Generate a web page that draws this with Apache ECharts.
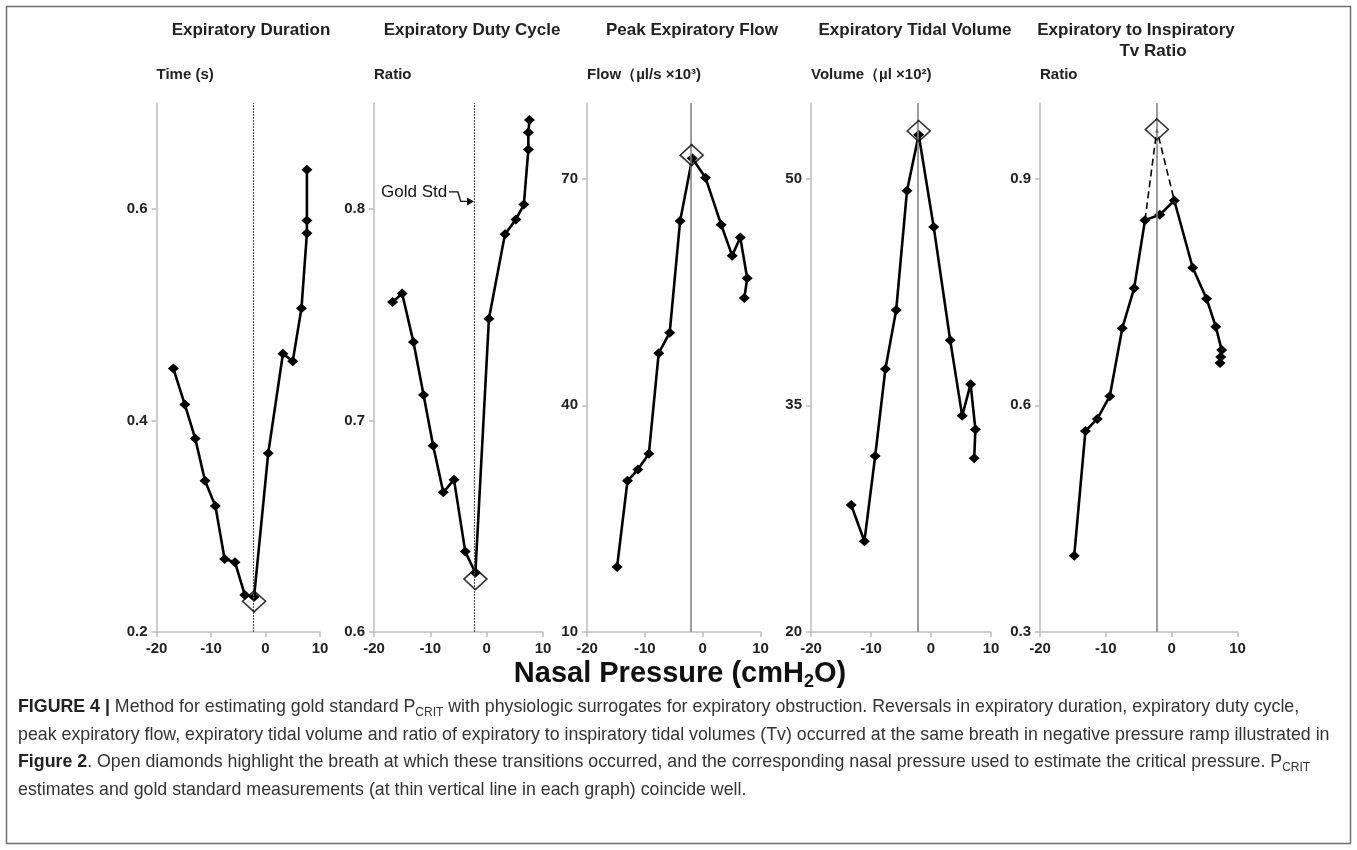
<!DOCTYPE html>
<html><head><meta charset="utf-8">
<script src="https://cdn.jsdelivr.net/npm/echarts@6/dist/echarts.min.js"></script>
<style>html,body{margin:0;padding:0;background:#fff}#c{width:1357px;height:850px}</style>
</head><body><div id="c"></div>
<script>
// ---------------- data ----------------
const panelTitles = ['Expiratory Duration', 'Expiratory Duty Cycle', 'Peak Expiratory Flow', 'Expiratory Tidal Volume', 'Expiratory to Inspiratory'];
const panelTitle5b = 'Tv Ratio';
const yNames = ['Time (s)', 'Ratio', 'Flow（µl/s ×10³)', 'Volume（µl ×10²)', 'Ratio'];
const xTicks = [-20, -10, 0, 10];
const yTicks = [[0.2, 0.4, 0.6], [0.6, 0.7, 0.8], [10, 40, 70], [20, 35, 50], [0.3, 0.6, 0.9]];
const yMin = [0.2, 0.6, 10, 20, 0.3];
const yMax = [0.7, 0.85, 80, 55, 1.0];
const goldStd = [-2.2, -2.2, -2.0, -2.2, -2.2];

const durX = [-16.9, -14.8, -12.9, -11.1, -9.2, -7.5, -5.6, -3.8, -2.1, 0.5, 3.2, 5.0, 6.6, 7.6, 7.6, 7.6];
const durY = [0.449, 0.415, 0.383, 0.343, 0.319, 0.269, 0.266, 0.235, 0.233, 0.369, 0.463, 0.456, 0.506, 0.577, 0.589, 0.637];
const durOpen = [-2.1, 0.229];

const dutyX = [-16.7, -15.0, -13.0, -11.2, -9.5, -7.7, -5.8, -3.8, -2.0, 0.4, 3.25, 5.2, 6.6, 7.4, 7.4, 7.6];
const dutyY = [0.756, 0.760, 0.737, 0.712, 0.688, 0.666, 0.672, 0.638, 0.628, 0.748, 0.788, 0.795, 0.802, 0.828, 0.836, 0.842];
const dutyOpen = [-2.0, 0.625];

const flowX = [-14.8, -13.0, -11.2, -9.3, -7.6, -5.7, -3.9, -1.8, 0.5, 3.2, 5.1, 6.5, 7.7, 7.2];
const flowY = [18.6, 30.0, 31.5, 33.6, 46.9, 49.6, 64.4, 72.7, 70.1, 63.9, 59.8, 62.2, 56.8, 54.2];
const flowOpen = [-1.9, 73.1];

const volX = [-13.3, -11.1, -9.3, -7.6, -5.8, -4.0, -2.05, 0.45, 3.2, 5.2, 6.6, 7.4, 7.2];
const volY = [28.4, 26.0, 31.65, 37.4, 41.3, 49.2, 52.9, 46.8, 39.3, 34.3, 36.4, 33.4, 31.5];
const volOpen = [-2.05, 53.15];

const ratioX = [-14.8, -13.1, -11.3, -9.4, -7.5, -5.7, -4.05, -1.8, 0.4, 3.2, 5.3, 6.7, 7.6, 7.45, 7.35];
const ratioY = [0.401, 0.566, 0.582, 0.612, 0.702, 0.755, 0.845, 0.852, 0.871, 0.782, 0.741, 0.704, 0.673, 0.664, 0.656];
const ratioOpen = [-2.25, 0.965];

const goldStdLabel = 'Gold Std';
const xAxisTitle = 'Nasal Pressure (cmH';
const captionLines = [
  '{b|FIGURE 4 |}{n| Method for estimating gold standard P}{s|CRIT}{n| with physiologic surrogates for expiratory obstruction. Reversals in expiratory duration, expiratory duty cycle,}',
  '{n|peak expiratory flow, expiratory tidal volume and ratio of expiratory to inspiratory tidal volumes (Tv) occurred at the same breath in negative pressure ramp illustrated in}',
  '{b|Figure 2}{n|. Open diamonds highlight the breath at which these transitions occurred, and the corresponding nasal pressure used to estimate the critical pressure. P}{s|CRIT}',
  '{n|estimates and gold standard measurements (at thin vertical line in each graph) coincide well.}'
];

// ---------------- layout ----------------
const FONT = "'Liberation Sans', Arial, Helvetica, sans-serif";
const gridLeft = [156.5, 374, 587, 811, 1040];
const gridWidth = [163.5, 169, 173.5, 180, 197.5];
const gridTop = 103, gridHeight = 529;
const titleX = [251, 472, 692, 915, 1136];

const zip = (xs, ys) => xs.map((x, i) => [x, ys[i]]);
const panels = [
  { data: zip(durX, durY), open: durOpen },
  { data: zip(dutyX, dutyY), open: dutyOpen },
  { data: zip(flowX, flowY), open: flowOpen },
  { data: zip(volX, volY), open: volOpen },
  { data: zip(ratioX, ratioY), open: ratioOpen }
];

const axisColor = '#bdbdbd';
const grids = [], xAxes = [], yAxes = [], series = [];
panels.forEach((p, i) => {
  grids.push({ left: gridLeft[i], top: gridTop, width: gridWidth[i], height: gridHeight, containLabel: false });
  xAxes.push({
    type: 'value', gridIndex: i, min: -20, max: 10, interval: 10,
    axisLine: { show: true, onZero: false, lineStyle: { color: axisColor, width: 1.5 } },
    axisTick: { show: true, length: 5, lineStyle: { color: axisColor, width: 1.5 } },
    splitLine: { show: false },
    axisLabel: { fontFamily: FONT, fontWeight: 'bold', fontSize: 15, color: '#222', margin: 9 }
  });
  yAxes.push({
    type: 'value', gridIndex: i, min: yMin[i], max: yMax[i],
    name: yNames[i], nameLocation: 'end', nameGap: 21,
    nameTextStyle: { fontFamily: FONT, fontWeight: 'bold', fontSize: 15, color: '#222', align: 'left', verticalAlign: 'bottom' },
    axisLine: { show: true, onZero: false, lineStyle: { color: axisColor, width: 1.5 } },
    axisTick: { show: true, length: 5, customValues: yTicks[i], lineStyle: { color: axisColor, width: 1.5 } },
    splitLine: { show: false },
    axisLabel: { customValues: yTicks[i], fontFamily: FONT, fontWeight: 'bold', fontSize: 15, color: '#222', margin: 9 }
  });
  const dotted = i < 2;
  series.push({
    type: 'line', xAxisIndex: i, yAxisIndex: i, data: p.data,
    symbol: 'diamond', symbolSize: [11, 10], showSymbol: true,
    itemStyle: { color: '#000' }, lineStyle: { color: '#000', width: 2.6 },
    z: 3, silent: true,
    markLine: {
      silent: true, symbol: 'none', label: { show: false }, animation: false,
      lineStyle: dotted ? { color: '#555', width: 1.2, type: [2, 1] } : { color: '#858585', width: 1.6, type: 'solid' },
      data: [{ xAxis: goldStd[i] }]
    }
  });
  if (i === 4) {
    series.push({
      type: 'line', xAxisIndex: i, yAxisIndex: i,
      data: [p.data[6], p.open, p.data[8]],
      symbol: 'none', lineStyle: { color: '#000', width: 1.6, type: [7, 4] }, z: 2, silent: true
    });
  }
  series.push({
    type: 'scatter', xAxisIndex: i, yAxisIndex: i, data: [p.open],
    symbol: 'diamond', symbolSize: [23, 21],
    itemStyle: { color: 'rgba(0,0,0,0)', borderColor: '#000', borderWidth: 1.6 },
    z: 5, silent: true
  });
});

const chart = echarts.init(document.getElementById('c'), null, { renderer: 'canvas' });
chart.setOption({
  animation: false,
  backgroundColor: '#fff',
  grid: grids, xAxis: xAxes, yAxis: yAxes, series: series
});

// ---------------- text & annotations ----------------
const g = [];
g.push({ type: 'rect', shape: { x: 6.5, y: 6.5, width: 1344, height: 837 }, style: { fill: 'none', stroke: '#6e6e6e', lineWidth: 1.5 }, silent: true });
panelTitles.forEach((t, i) => {
  g.push({ type: 'text', x: titleX[i], y: 30, style: { text: t, font: 'bold 17px ' + FONT, fill: '#222', align: 'center', verticalAlign: 'middle' }, silent: true });
});
g.push({ type: 'text', x: 1153, y: 51, style: { text: panelTitle5b, font: 'bold 17px ' + FONT, fill: '#222', align: 'center', verticalAlign: 'middle' }, silent: true });

// Gold Std annotation (panel 2), placed in data coordinates
const px = v => chart.convertToPixel({ gridIndex: 1 }, v);
const tPos = px([-7.0, 0.808]);
g.push({ type: 'text', x: tPos[0], y: tPos[1], style: { text: goldStdLabel, font: "17px 'Liberation Sans', Arial, sans-serif", fill: '#111', align: 'right', verticalAlign: 'middle' }, silent: true });
const a1 = px([-6.7, 0.808]), a2 = px([-5.1, 0.808]), a3 = px([-4.6, 0.8035]), a4 = px([-2.55, 0.8035]);
g.push({ type: 'polyline', shape: { points: [a1, a2, a3, a4] }, style: { stroke: '#111', lineWidth: 1.4, fill: 'none' }, silent: true });
const tip = px([-2.25, 0.8035]);
g.push({ type: 'polygon', shape: { points: [[tip[0], tip[1]], [tip[0] - 7, tip[1] - 4], [tip[0] - 7, tip[1] + 4]] }, style: { fill: '#111' }, silent: true });

// x axis title
g.push({ type: 'text', x: 680, y: 674, style: {
  text: '{a|' + xAxisTitle + '}{s|2}{a|O)}', align: 'center', verticalAlign: 'middle',
  rich: {
    a: { fontFamily: FONT, fontWeight: 'bold', fontSize: 29, fill: '#111', lineHeight: 34, verticalAlign: 'middle' },
    s: { fontFamily: FONT, fontWeight: 'bold', fontSize: 18, fill: '#111', lineHeight: 18, verticalAlign: 'bottom' }
  } }, silent: true });

// caption
const capY = [707, 735, 762, 790];
const capRich = {
  n: { fontFamily: FONT, fontSize: 17.8, fill: '#333', lineHeight: 24, verticalAlign: 'middle' },
  b: { fontFamily: FONT, fontSize: 17.8, fontWeight: 'bold', fill: '#222', lineHeight: 24, verticalAlign: 'middle' },
  s: { fontFamily: FONT, fontSize: 12, fill: '#333', lineHeight: 13, verticalAlign: 'bottom' }
};
captionLines.forEach((l, i) => {
  g.push({ type: 'text', x: 18, y: capY[i], style: { text: l, align: 'left', verticalAlign: 'middle', rich: capRich }, silent: true });
});

chart.setOption({ graphic: g });
</script>
</body></html>
